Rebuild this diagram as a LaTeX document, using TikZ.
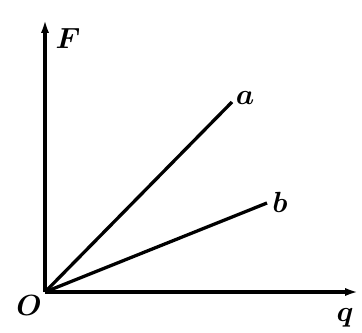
\documentclass[tikz,border=0pt]{standalone}
\usetikzlibrary{arrows.meta}
\begin{document}
\begin{tikzpicture}[x=0.03cm,y=-0.03cm, line width=2.8pt, >={Latex[length=11pt,width=7pt]},
    every node/.style={font=\fontsize{25}{25}\selectfont\boldmath}]
        \useasboundingbox (0,0) rectangle (362,332);
        \coordinate (O) at (45,292);
        \coordinate (Ftop) at (45,20);
        \coordinate (qend) at (358,292);
        \coordinate (aend) at (232,102);
        \coordinate (bend) at (267,203);
        \draw[->] (O) -- (Ftop);
        \draw[->] (O) -- (qend);
        \draw (O) -- (aend);
        \draw (O) -- (bend);
        \node (Flab) at (68,38){$F$};
        \node (alab) at (245,98){$a$};
        \node (blab) at (280,202){$b$};
        \node (Olab) at (29,305){$O$};
        \node (qlab) at (345,318){$q$};
    \end{tikzpicture}
\end{document}
